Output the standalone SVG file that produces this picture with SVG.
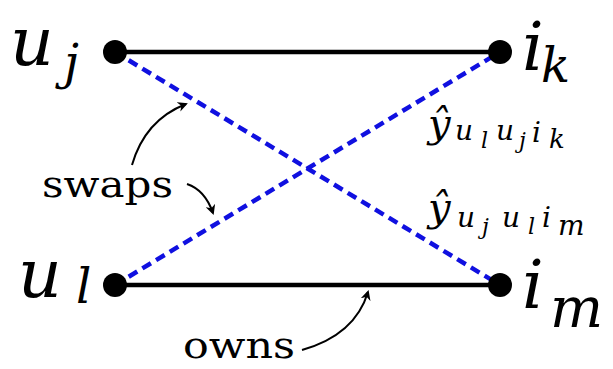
<svg xmlns="http://www.w3.org/2000/svg" width="613" height="369" viewBox="0 0 613 369">
<style>
.m{font-family:"DejaVu Serif",serif;font-style:italic;fill:#000}
.big{font-size:68px}
.sub{font-size:48px}
.hat{font-size:40px}
.hs{font-size:28px}
.hss{font-size:22px}
.t{font-family:"DejaVu Serif",serif;font-size:38px;fill:#000}
.solid{stroke:#000;stroke-width:4.5;fill:none}
.dash{stroke:#1010e0;stroke-width:4.5;stroke-dasharray:10,6;fill:none}
.arr{stroke:#000;stroke-width:2;fill:none;marker-end:url(#ah)}
</style>
<defs>
<marker id="ah" markerWidth="10" markerHeight="10" refX="8" refY="5" orient="auto" markerUnits="userSpaceOnUse">
<path d="M0,0 L10,5 L0,10 L3,5 Z" fill="#000"/>
</marker>
</defs>
<rect width="613" height="369" fill="#fff"/>
<g id="connectors">
<line class="solid" x1="115" y1="52" x2="500" y2="52"/>
<line class="solid" x1="115" y1="285" x2="500" y2="285"/>
<line class="dash" x1="115" y1="52" x2="500" y2="285"/>
<line class="dash" x1="115" y1="285" x2="500" y2="52"/>
<path class="arr" d="M132,165 Q145,120 186,104"/>
<path class="arr" d="M187,184 Q205,190 213,213"/>
<path class="arr" d="M302,350 Q355,335 368,292"/>
</g>
<g id="node-uj">
<circle cx="115" cy="52" r="12" fill="#000"/>
<text class="m big" x="10" y="65">u</text>
<text class="m sub" x="64" y="79">j</text>
</g>
<g id="node-ik">
<circle cx="500" cy="52" r="12" fill="#000"/>
<text class="m big" x="522" y="70">i</text>
<text class="m sub" x="541" y="82">k</text>
<text class="m hat" x="428" y="137">ŷ</text>
<text class="m hs" x="455" y="140">u</text>
<text class="m hss" x="481" y="148">l</text>
<text class="m hs" x="496" y="140">u</text>
<text class="m hss" x="519" y="148">j</text>
<text class="m hs" x="532" y="142">i</text>
<text class="m hss" x="549" y="148" style="font-size:26px">k</text>
</g>
<g id="node-ul">
<circle cx="115" cy="285" r="12" fill="#000"/>
<text class="m big" x="18" y="297">u</text>
<text class="m sub" x="76" y="303">l</text>
</g>
<g id="node-im">
<circle cx="500" cy="285" r="12" fill="#000"/>
<text class="m big" x="522" y="308">i</text>
<text class="m sub" x="550" y="327" style="font-size:56px">m</text>
<text class="m hat" x="428" y="221">ŷ</text>
<text class="m hs" x="457" y="227">u</text>
<text class="m hss" x="482" y="234">j</text>
<text class="m hs" x="502" y="227">u</text>
<text class="m hss" x="528" y="234">l</text>
<text class="m hs" x="542" y="227">i</text>
<text class="m hss" x="558" y="235" style="font-size:28px">m</text>
</g>
<g id="label-swaps"><text class="t" x="42" y="197" textLength="131" lengthAdjust="spacingAndGlyphs">swaps</text></g>
<g id="label-owns"><text class="t" x="183" y="358" textLength="112" lengthAdjust="spacingAndGlyphs">owns</text></g>
</svg>
